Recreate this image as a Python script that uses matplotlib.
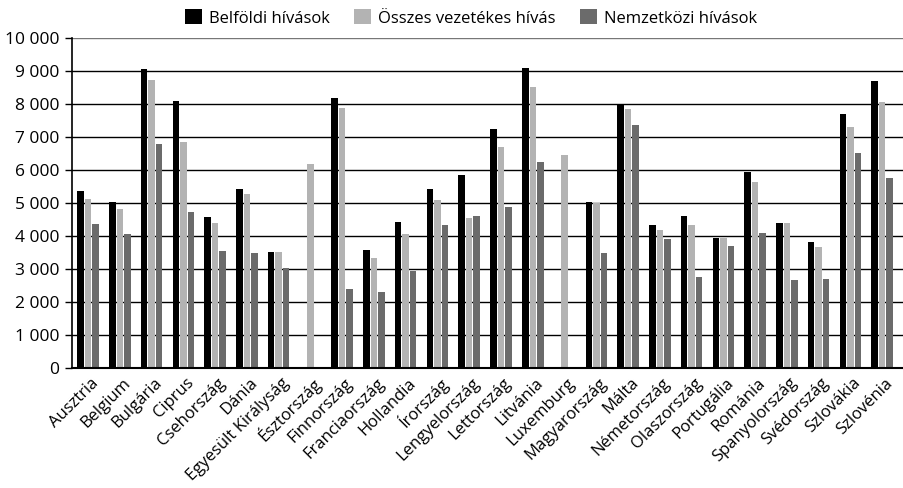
import matplotlib.pyplot as plt
import matplotlib.transforms as mtransforms
import numpy as np
from matplotlib.ticker import FuncFormatter

plt.rcParams['font.family'] = ['Open Sans', 'DejaVu Sans']

orszagok = ["Ausztria", "Belgium", "Bulgária", "Ciprus", "Csehország", "Dánia",
            "Egyesült Királyság", "Észtország", "Finnország", "Franciaország",
            "Hollandia", "Írország", "Lengyelország", "Lettország", "Litvánia",
            "Luxemburg", "Magyarország", "Málta", "Németország", "Olaszország",
            "Portugália", "Románia", "Spanyolország", "Svédország", "Szlovákia",
            "Szlovénia"]
belfoldi = [5360, 5030, 9070, 8110, 4580, 5430, 3500, 0, 8180, 3570,
            4430, 5430, 5850, 7250, 9100, 0, 5030, 8000, 4330, 4610,
            3950, 5930, 4380, 3830, 7690, 8700]
osszes = [5120, 4820, 8730, 6860, 4400, 5280, 3520, 6190, 7870, 3340,
          4060, 5090, 4530, 6700, 8520, 6460, 5010, 7860, 4180, 4330,
          3950, 5640, 4380, 3670, 7310, 8070]
nemzetkozi = [4370, 4050, 6800, 4720, 3540, 3470, 3020, 0, 2380, 2300,
              2930, 4330, 4620, 4890, 6230, 0, 3490, 7360, 3900, 2760,
              3710, 4080, 2660, 2690, 6510, 5770]
sorozatok = ["Belföldi hívások", "Összes vezetékes hívás", "Nemzetközi hívások"]

fig = plt.figure(figsize=(9.04, 4.88), dpi=100)
ax = fig.add_axes([0.0796, 0.2465, 0.9204, 0.675])

x = np.arange(len(orszagok))
w = 0.205
d = 0.236
ax.bar(x - d, belfoldi, w, color='#000000', label=sorozatok[0], zorder=3)
ax.bar(x, osszes, w, color='#b3b3b3', label=sorozatok[1], zorder=3)
ax.bar(x + d, nemzetkozi, w, color='#6b6b6b', label=sorozatok[2], zorder=3)

ax.set_xlim(-0.51, 25.69)
ax.set_ylim(0, 10000)
ax.set_yticks(range(0, 10001, 1000))
ax.yaxis.set_major_formatter(FuncFormatter(lambda v, p: f"{int(v):,}".replace(",", " ")))
for yv in range(1000, 10001, 1000):
    ax.axhline(yv, color='#777777' if yv == 10000 else '#000000', lw=1.0, zorder=1)

for s in ['top', 'right']:
    ax.spines[s].set_visible(False)
ax.spines['left'].set_linewidth(1.2)
ax.spines['bottom'].set_linewidth(1.5)
ax.spines['bottom'].set_zorder(4)

ax.tick_params(axis='y', length=5, width=1, labelsize=12.5, pad=4)
ax.tick_params(axis='x', length=0, labelsize=12, pad=0)
ax.set_xticks(x)
ax.set_xticklabels(orszagok, rotation=45, ha='right', va='center', rotation_mode='anchor')
eltol = mtransforms.ScaledTranslation(8 / 100, -13 / 100, fig.dpi_scale_trans)
for lab in ax.get_xticklabels():
    lab.set_transform(lab.get_transform() + eltol)

fig.legend(loc='center', bbox_to_anchor=(0.521, 0.963), ncol=3, frameon=False,
           fontsize=12, handlelength=1.0, handleheight=1.0, handletextpad=0.4,
           columnspacing=1.5)

fig.savefig('out.png', dpi=100)
